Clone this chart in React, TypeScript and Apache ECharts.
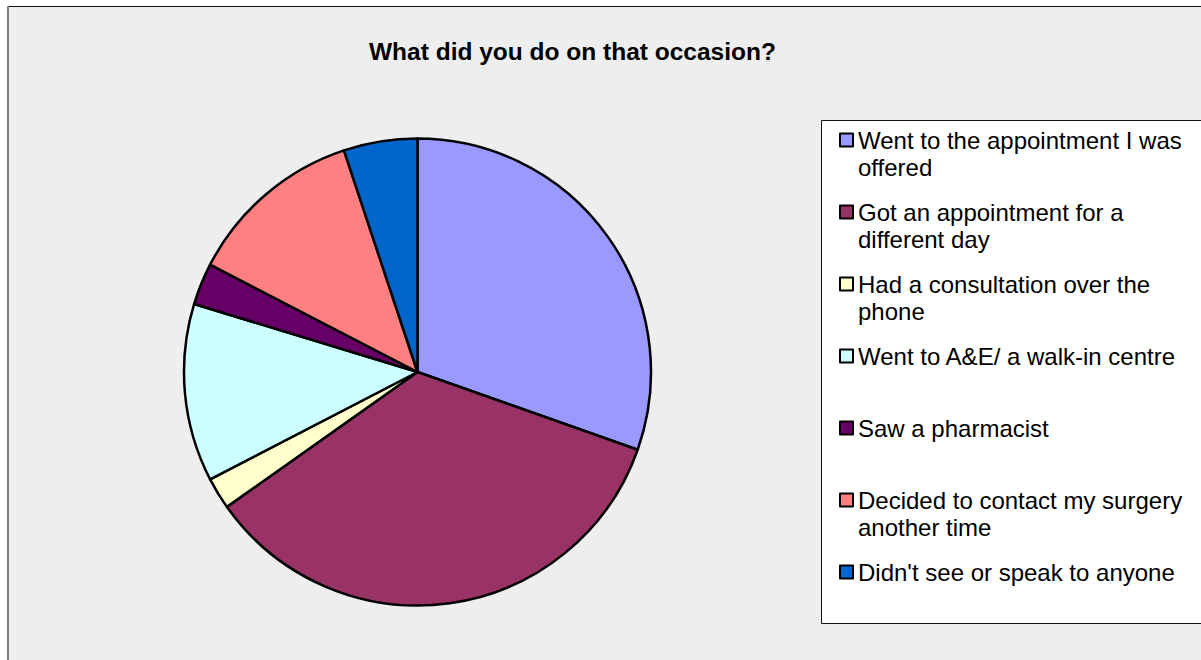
import React, { useEffect, useRef } from "react";
import * as echarts from "echarts";

const titleText = "What did you do on that occasion?";

const categories = [
  "Went to the appointment I was offered",
  "Got an appointment for a different day",
  "Had a consultation over the phone",
  "Went to A&E/ a walk-in centre",
  "Saw a pharmacist",
  "Decided to contact my surgery another time",
  "Didn't see or speak to anyone",
];

const legendLines = [
  ["Went to the appointment I was", "offered"],
  ["Got an appointment for a", "different day"],
  ["Had a consultation over the", "phone"],
  ["Went to A&E/ a walk-in centre"],
  ["Saw a pharmacist"],
  ["Decided to contact my surgery", "another time"],
  ["Didn't see or speak to anyone"],
];

const values = [30.4, 34.8, 2.2, 12.3, 2.9, 12.3, 5.1];

const colors = ["#9999FF", "#993366", "#FFFFCC", "#CCFFFF", "#660066", "#FF8080", "#0066CC"];

const FONT = "'Liberation Sans', Arial, sans-serif";

export default function App() {
  const ref = useRef<HTMLDivElement>(null);

  useEffect(() => {
    if (!ref.current) return;
    const chart = echarts.init(ref.current, null, { renderer: "svg" });
    const option = {
      animation: false,
      backgroundColor: "#ffffff",
      title: {
        text: titleText,
        left: 369,
        top: 39,
        padding: 0,
        textStyle: { fontFamily: FONT, fontSize: 24.5, fontWeight: "bold", color: "#000" },
      },
      graphic: [
        {
          type: "rect",
          z: -10,
          shape: { x: 8, y: 6.5, width: 1200, height: 660 },
          style: { fill: "#EEEEEE" },
          silent: true,
        },
        {
          type: "line",
          z: -9,
          shape: { x1: 7, y1: 6.5, x2: 1201, y2: 6.5 },
          style: { stroke: "#111", lineWidth: 1 },
          silent: true,
        },
        {
          type: "line",
          z: -9,
          shape: { x1: 8, y1: 6, x2: 8, y2: 660 },
          style: { stroke: "#808080", lineWidth: 2 },
          silent: true,
        },
        {
          type: "rect",
          z: -8,
          shape: { x: 821.5, y: 120.5, width: 400, height: 503 },
          style: { fill: "#ffffff", stroke: "#111", lineWidth: 1 },
          silent: true,
        },
      ],
      legend: {
        orient: "vertical",
        left: 839,
        top: 99.5,
        padding: 0,
        itemGap: -9,
        itemWidth: 13,
        itemHeight: 13,
        icon: "rect",
        selectedMode: false,
        data: categories,
        itemStyle: { borderColor: "#000", borderWidth: 2 },
        formatter: (name: string) => {
          const lines = legendLines[categories.indexOf(name)];
          return lines.length === 2 ? "\n" + lines[0] + "\n" + lines[1] : "\n" + lines[0] + "\n";
        },
        textStyle: { fontFamily: FONT, fontSize: 24, lineHeight: 27, color: "#000" },
      },
      series: [
        {
          type: "pie",
          center: [417.5, 372],
          radius: 233.5,
          startAngle: 90,
          clockwise: true,
          label: { show: false },
          labelLine: { show: false },
          emphasis: { disabled: true },
          itemStyle: { borderColor: "#000", borderWidth: 2.5 },
          data: categories.map((name, i) => ({
            name,
            value: values[i],
            itemStyle: { color: colors[i] },
          })),
        },
      ],
    };
    chart.setOption(option as any);
    return () => chart.dispose();
  }, []);

  return (
    <div
      ref={ref}
      style={{ position: "fixed", left: 0, top: 0, width: 1201, height: 660 }}
    />
  );
}
